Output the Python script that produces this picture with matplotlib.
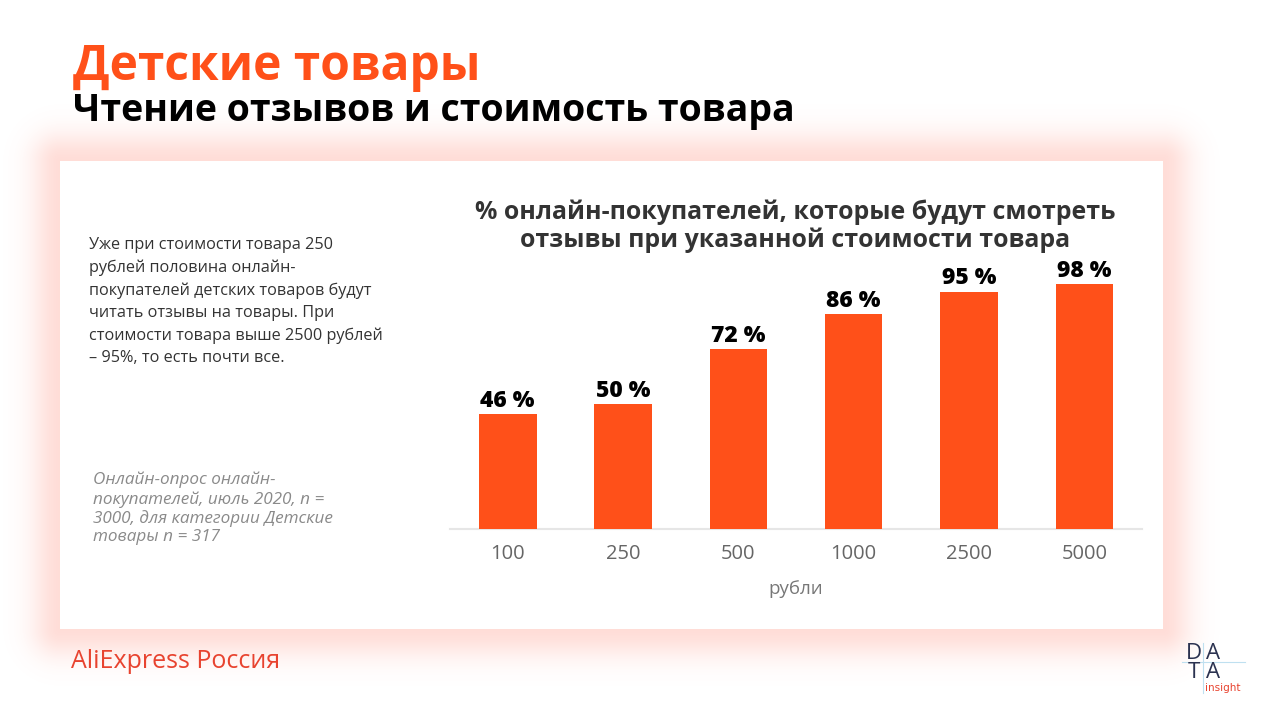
import matplotlib
matplotlib.use("Agg")
import numpy as np
import matplotlib.pyplot as plt
from matplotlib.patches import Rectangle
from matplotlib.lines import Line2D

# ---- data ----
categories = ["100", "250", "500", "1000", "2500", "5000"]
values = [46, 50, 72, 86, 95, 98]
value_labels = ["46 %", "50 %", "72 %", "86 %", "95 %", "98 %"]

title_main = "Детские товары"
title_sub = "Чтение отзывов и стоимость товара"
chart_title = "% онлайн-покупателей, которые будут смотреть\nотзывы при указанной стоимости товара"
x_label = "рубли"
note_text = ("Уже при стоимости товара 250\nрублей половина онлайн-\n"
             "покупателей детских товаров будут\nчитать отзывы на товары. При\n"
             "стоимости товара выше 2500 рублей\n– 95%, то есть почти все.")
source_text = ("Онлайн-опрос онлайн-\nпокупателей, июль 2020, n =\n"
               "3000, для категории Детские\nтовары n = 317")
brand_text = "AliExpress Россия"

ORANGE = "#FF5019"
W, H = 1273, 715

plt.rcParams['font.family'] = ['Open Sans', 'DejaVu Sans']

fig = plt.figure(figsize=(W / 100, H / 100), dpi=100)
fig.patch.set_facecolor("white")

def fx(px):
    return px / W

def fy(py):
    return 1 - py / H

# card glow (soft shadow) drawn as a background image
cx0, cy0, cx1, cy1 = 60, 161, 1163, 629
yy, xx = np.mgrid[0:H, 0:W] + 0.5
dx = np.maximum(np.maximum(cx0 - xx, xx - cx1), 0)
dy = np.maximum(np.maximum(cy0 - yy, yy - cy1), 0)
d = np.hypot(dx, dy)
a = 0.24 * np.exp(-(d / 28.0) ** 2)
img = np.ones((H, W, 4))
img[..., 0] = 1.0
img[..., 1] = 0.45
img[..., 2] = 0.36
img[..., 3] = a
bg = fig.add_axes([0, 0, 1, 1])
bg.imshow(img, extent=(0, W, H, 0), aspect="auto", interpolation="bilinear")
bg.add_patch(Rectangle((cx0, cy0), cx1 - cx0, cy1 - cy0, facecolor="white",
                       edgecolor="none"))
bg.set_xlim(0, W)
bg.set_ylim(H, 0)
bg.axis("off")
bg.set_zorder(0)

# titles
fig.text(fx(73), fy(68), title_main, color=ORANGE, fontsize=34.5, fontweight="bold",
         va="center", ha="left")
fig.text(fx(73), fy(111), title_sub, color="black", fontsize=27, fontweight="bold",
         va="center", ha="left")

# left notes
fig.text(fx(89), fy(237), note_text, color="#333333", fontsize=11.7, va="top",
         ha="left", linespacing=1.52)
fig.text(fx(93), fy(472), source_text, color="#8a8a8a", fontsize=12.3, va="top",
         ha="left", style="italic", linespacing=1.2)

# brand
fig.text(fx(71), fy(662), brand_text, color="#E8432F", fontsize=18, va="center",
         ha="left")

# DATA insight logo
fig.lines.append(Line2D([fx(1182), fx(1245)], [fy(662), fy(662)],
                        transform=fig.transFigure, color="#BFE0F0", lw=0.8, zorder=5))
fig.lines.append(Line2D([fx(1203), fx(1203)], [fy(643), fy(693)],
                        transform=fig.transFigure, color="#BFE0F0", lw=0.8, zorder=5))
logo_col = "#2B3250"
fig.text(fx(1194), fy(663), "D\nT", color=logo_col, fontsize=16, ha="center",
         va="center", family=["Open Sans", "DejaVu Sans"], linespacing=0.9, zorder=6)
fig.text(fx(1213), fy(663), "A\nA", color=logo_col, fontsize=16, ha="center",
         va="center", family=["Open Sans", "DejaVu Sans"], linespacing=0.9, zorder=6)
fig.text(fx(1205), fy(688), "insight", color="#E8432F", fontsize=7.5, ha="left",
         va="center", family=["DejaVu Sans"], zorder=6)

# chart
ax = fig.add_axes([fx(450), fy(529), fx(1142 - 450), (529 - 254) / H])
ax.set_zorder(3)
ax.patch.set_alpha(0)
x = list(range(len(categories)))
bars = ax.bar(x, values, width=0.5, color=ORANGE, zorder=3)
ax.set_xlim(-0.5, len(categories) - 0.5)
ax.set_ylim(0, 110)
for xi, v, lab in zip(x, values, value_labels):
    ax.annotate(lab, (xi, v), xytext=(0, 1), textcoords="offset points",
                ha="center", va="bottom", fontsize=16.5, fontweight="heavy",
                color="black", clip_on=False)
ax.set_xticks(x)
ax.set_xticklabels(categories, color="#666666", fontsize=14.5)
ax.tick_params(axis="x", length=0, pad=10.5)
ax.set_yticks([])
for s in ["top", "left", "right"]:
    ax.spines[s].set_visible(False)
ax.spines["bottom"].set_color("#E6E6E6")
ax.spines["bottom"].set_linewidth(1.5)
ax.set_xlabel(x_label, color="#777777", fontsize=13.5, labelpad=12)

fig.text(fx(795), fy(226), chart_title, color="#333333", fontsize=17.9,
         fontweight="bold", ha="center", va="center", linespacing=1.15)

fig.savefig("out.png", dpi=100, facecolor="white")
